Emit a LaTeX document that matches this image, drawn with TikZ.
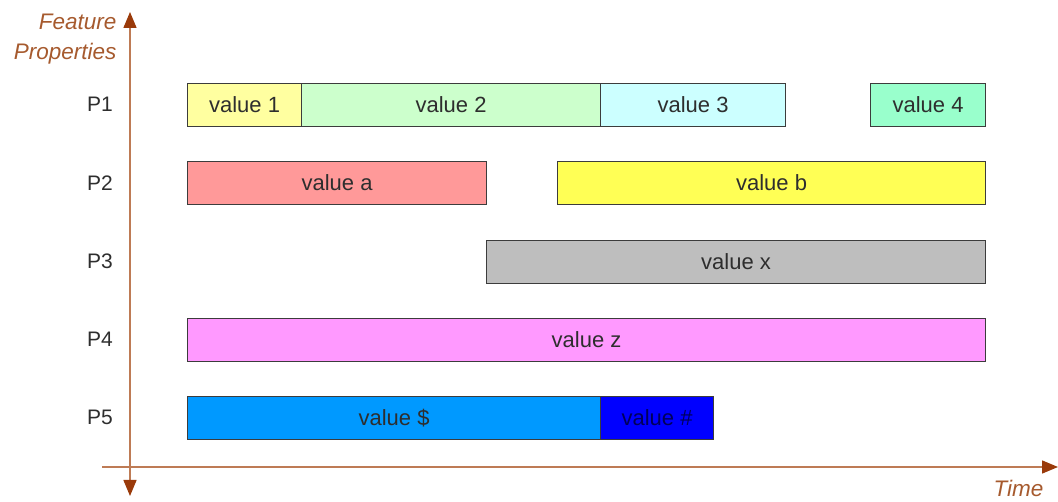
\documentclass[tikz,border=0pt]{standalone}
\usepackage{fontspec}
\setmainfont{Liberation Sans}
\usetikzlibrary{arrows.meta}
\definecolor{axisc}{HTML}{BE7B55}
\definecolor{headc}{HTML}{9A3A0A}
\definecolor{labc}{HTML}{A65A2E}
\definecolor{edgec}{HTML}{3C3C3C}
\definecolor{txtc}{HTML}{2E2E2E}
\begin{document}
\begin{tikzpicture}[x=1pt,y=-1pt,
  bar/.style={draw=edgec,line width=1.1pt,minimum height=43pt,inner sep=0pt,anchor=north west,text=txtc,font=\fontsize{22}{26}\selectfont},
  plab/.style={text=txtc,font=\fontsize{21}{25}\selectfont},
  axlab/.style={text=labc,font=\fontsize{22.5}{30}\selectfont\itshape,align=right},
  axis/.style={draw=axisc,line width=1.5pt},
  tip/.style={-{Triangle[length=16pt,width=13pt,fill=headc,color=headc]}}
]
\useasboundingbox (0,0) rectangle (1058,502);
% axes
\coordinate (vtop) at (130,12);
\coordinate (vbot) at (130,496);
\coordinate (vmid) at (130,250);
\coordinate (hleft) at (102,467);
\coordinate (hright) at (1058,467);
\draw[axis,tip] (vmid) -- (vtop);
\draw[axis,tip] (vmid) -- (vbot);
\draw[axis,tip] (hleft) -- (hright);
\node[axlab,anchor=east] (fp) at (120,39) {Feature\\Properties};
\node[axlab,anchor=east] (time) at (1047,488) {Time};
% row labels
\node[plab] (p1) at (100,104) {P1};
\node[plab] (p2) at (100,183) {P2};
\node[plab] (p3) at (100,261) {P3};
\node[plab] (p4) at (100,339) {P4};
\node[plab] (p5) at (100,417) {P5};
% P1
\node[bar,fill={rgb,255:red,255;green,255;blue,160},minimum width=114pt] (v1) at (187,83) {value 1};
\node[bar,fill={rgb,255:red,204;green,255;blue,204},minimum width=299pt] (v2) at (301,83) {value 2};
\node[bar,fill={rgb,255:red,204;green,255;blue,255},minimum width=185pt] (v3) at (600,83) {value 3};
\node[bar,fill={rgb,255:red,153;green,255;blue,204},minimum width=115pt] (v4) at (870,83) {value 4};
% P2
\node[bar,fill={rgb,255:red,255;green,153;blue,153},minimum width=299pt] (va) at (187,161) {value a};
\node[bar,fill={rgb,255:red,255;green,255;blue,85},minimum width=428pt] (vb) at (557,161) {value b};
% P3
\node[bar,fill={rgb,255:red,190;green,190;blue,190},minimum width=499pt] (vx) at (486,240) {value x};
% P4
\node[bar,fill={rgb,255:red,255;green,153;blue,255},minimum width=798pt] (vz) at (187,318) {value z};
% P5
\node[bar,fill={rgb,255:red,0;green,153;blue,255},minimum width=413pt] (vd) at (187,396) {value \$};
\node[bar,fill={rgb,255:red,0;green,0;blue,255},text={rgb,255:red,0;green,0;blue,90},minimum width=113pt] (vh) at (600,396) {value \#};
\end{tikzpicture}
\end{document}
